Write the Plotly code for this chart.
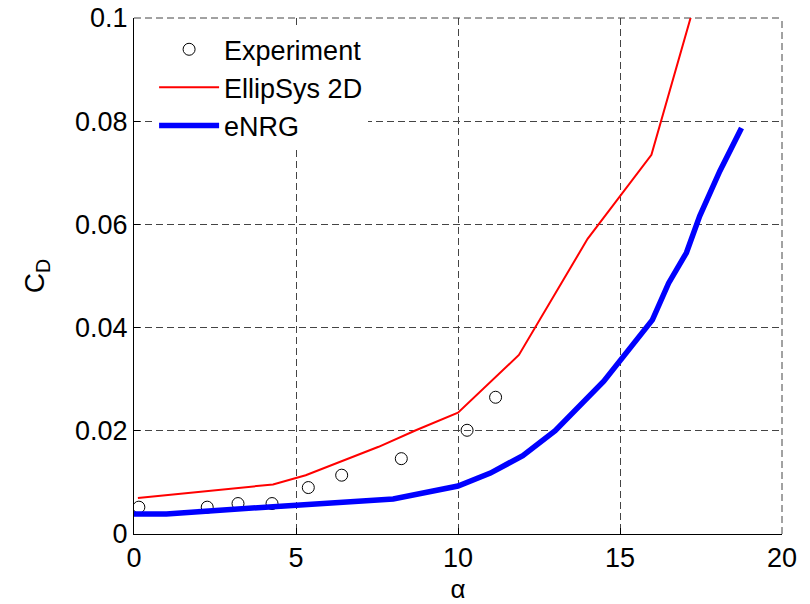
import plotly.graph_objects as go

# Experiment
exp_alpha = [0.15, 2.26, 3.21, 4.26, 5.38, 6.41, 8.25, 10.28, 11.16]
exp_cd = [0.0052, 0.0052, 0.0059, 0.0059, 0.0090, 0.0114, 0.0146, 0.0201, 0.0265]

# EllipSys 2D
ell_alpha = [0.12, 4.29, 5.3, 7.55, 8.7, 10.0, 11.88, 14.0, 15.97, 17.2]
ell_cd = [0.0070, 0.0096, 0.0114, 0.0169, 0.0201, 0.0235, 0.0347, 0.0572, 0.0735, 0.1005]

# eNRG
enrg_alpha = [0.0, 1.0, 4.29, 8.0, 10.0, 11.0, 12.0, 13.0, 14.5, 16.0, 16.5, 17.05, 17.46, 18.08, 18.75]
enrg_cd = [0.0039, 0.0039, 0.0053, 0.0068, 0.0093, 0.0118, 0.0152, 0.0200, 0.0296, 0.0415, 0.0486, 0.0545, 0.0616, 0.0703, 0.0787]

x_ticks = [0, 5, 10, 15, 20]
y_ticks = [0, 0.02, 0.04, 0.06, 0.08, 0.1]
y_tick_text = ["0", "0.02", "0.04", "0.06", "0.08", "0.1"]

FONT = "Liberation Sans, Arial, sans-serif"
GRID = "#444444"

fig = go.Figure()
fig.add_trace(go.Scatter(
    x=exp_alpha, y=exp_cd, mode="markers", name="Experiment",
    marker=dict(symbol="circle-open", size=12, color="black", line=dict(width=1, color="black")),
))
fig.add_trace(go.Scatter(
    x=ell_alpha, y=ell_cd, mode="lines", name="EllipSys 2D",
    line=dict(color="#ff0000", width=2),
))
fig.add_trace(go.Scatter(
    x=enrg_alpha, y=enrg_cd, mode="lines", name="eNRG",
    line=dict(color="#0000ff", width=5.5),
))

axis_common = dict(
    showline=True, linecolor="black", linewidth=1, mirror=False,
    ticks="inside", ticklen=6, tickcolor="black",
    showgrid=True, gridcolor=GRID, griddash="7px,4px", gridwidth=1,
    zeroline=False, automargin=False, ticklabeloverflow="allow",
    tickfont=dict(family=FONT, size=27, color="black"),
)

fig.update_layout(
    width=810, height=604,
    margin=dict(l=134, r=28, t=18, b=70),
    paper_bgcolor="white", plot_bgcolor="white",
    font=dict(family=FONT, color="black"),
    showlegend=True,
    legend=dict(
        x=0.031, y=0.986, xanchor="left", yanchor="top",
        bgcolor="white", borderwidth=0,
        font=dict(family=FONT, size=27, color="black"),
        itemwidth=60,
    ),
    xaxis=dict(
        range=[0, 20], tickvals=x_ticks,
        title=dict(text="α", font=dict(family=FONT, size=26), standoff=8),
        **axis_common,
    ),
    yaxis=dict(
        range=[0, 0.1], tickvals=y_ticks, ticktext=y_tick_text,
        title=dict(text="C<sub>D</sub>", font=dict(family=FONT, size=28), standoff=22),
        **axis_common,
    ),
    shapes=[
        dict(type="line", xref="paper", yref="paper", x0=0, x1=1, y0=1, y1=1,
             line=dict(color=GRID, width=1, dash="7px,4px"), layer="below"),
        dict(type="line", xref="paper", yref="paper", x0=1, x1=1, y0=0, y1=1,
             line=dict(color=GRID, width=1, dash="7px,4px"), layer="below"),
    ],
)

fig.write_html(
    "out.html",
    config={"displayModeBar": False},
    post_script="document.body.style.margin='0';document.body.style.overflow='hidden';",
)
